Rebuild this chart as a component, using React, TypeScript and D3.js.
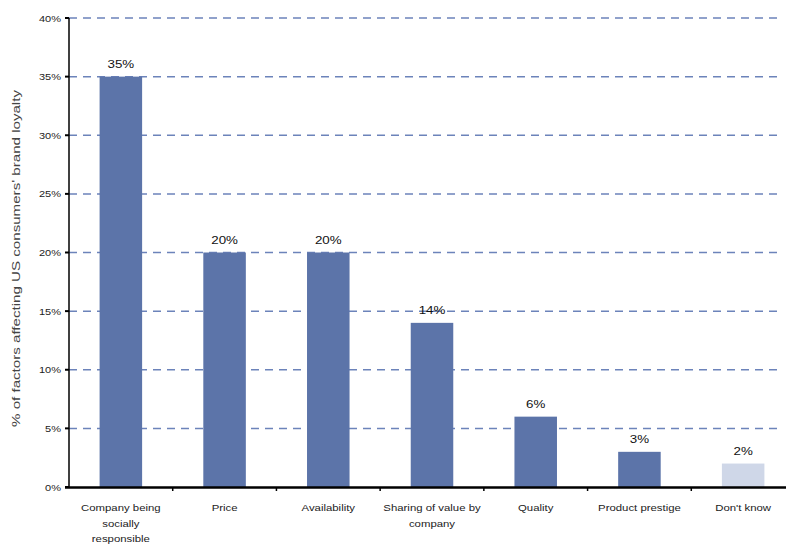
import React from "react";
import * as d3 from "d3";

const categories: string[] = [
  "Company being|socially|responsible",
  "Price",
  "Availability",
  "Sharing of value by|company",
  "Quality",
  "Product prestige",
  "Don't know",
];
const values: number[] = [35, 20, 20, 14, 6, 3, 2];
const highlight: boolean[] = [true, true, true, true, true, true, false];
const yTicks: number[] = [0, 5, 10, 15, 20, 25, 30, 35, 40];
const yTitle = "% of factors affecting US consumers' brand loyalty";

const W = 786;
const H = 546;
const left = 69;
const right = 795;
const top = 18;
const bottom = 487;
const BLUE = "#5C74A9";
const GRID = "#6C83BA";
const LIGHT = "#CFD7E8";
const FONT = "Liberation Sans, Arial, sans-serif";
const SX = 1.16;

function App() {
  const x = d3.scaleBand<number>().domain(d3.range(categories.length)).range([left, right]).padding(0);
  const y = d3.scaleLinear().domain([0, 40]).range([bottom, top]);
  const bw = x.bandwidth() * 0.41;

  return (
    <svg width={W} height={H} style={{ position: "absolute", left: 0, top: 0, background: "#fff" }}>
      {yTicks.filter((t) => t > 0).map((t) => (
        <line key={"g" + t} x1={left} x2={782} y1={y(t)} y2={y(t)} stroke={GRID} strokeWidth={1.5} strokeDasharray="8,6" />
      ))}
      {values.map((v, i) => {
        const cx = (x(i) as number) + x.bandwidth() / 2;
        return (
          <g key={"b" + i}>
            <rect x={cx - bw / 2} y={y(v)} width={bw} height={bottom - y(v)} fill={highlight[i] ? BLUE : LIGHT} />
            <text
              transform={`translate(${cx},${y(v) - 9}) scale(${SX},1)`}
              textAnchor="middle"
              fontFamily={FONT}
              fontSize={11.5}
              fill="#111"
            >
              {v + "%"}
            </text>
          </g>
        );
      })}
      <line x1={left} x2={left} y1={top} y2={bottom} stroke="#000" strokeWidth={1.5} />
      {yTicks.map((t) => (
        <g key={"t" + t}>
          <line x1={left - 4} x2={left} y1={y(t)} y2={y(t)} stroke="#000" strokeWidth={2} />
          <text
            transform={`translate(${left - 8},${y(t) + 3.5}) scale(${SX},1)`}
            textAnchor="end"
            fontFamily={FONT}
            fontSize={9.5}
            fill="#222"
          >
            {t + "%"}
          </text>
        </g>
      ))}
      <line x1={left - 4} x2={W} y1={bottom + 0.5} y2={bottom + 0.5} stroke="#000" strokeWidth={2.5} />
      {d3.range(1, categories.length).map((i) => (
        <line key={"xt" + i} x1={x(i) as number} x2={x(i) as number} y1={bottom} y2={bottom + 4} stroke="#000" strokeWidth={1.5} />
      ))}
      {categories.map((c, i) => {
        const cx = (x(i) as number) + x.bandwidth() / 2;
        return c.split("|").map((line, j) => (
          <text
            key={"xl" + i + "-" + j}
            transform={`translate(${cx},${511 + j * 15.5}) scale(${SX},1)`}
            textAnchor="middle"
            fontFamily={FONT}
            fontSize={9.8}
            fill="#222"
          >
            {line}
          </text>
        ));
      })}
      <text
        transform={`translate(20,${(90 + 427) / 2}) rotate(-90)`}
        textAnchor="middle"
        fontFamily={FONT}
        fontSize={10.5}
        fill="#444"
        textLength={337}
        lengthAdjust="spacingAndGlyphs"
      >
        {yTitle}
      </text>
    </svg>
  );
}

export default App;
